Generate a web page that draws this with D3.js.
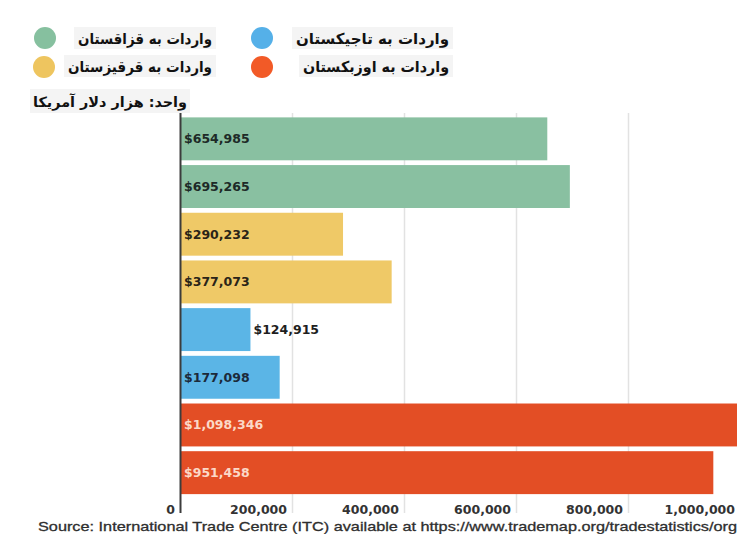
<!DOCTYPE html>
<html>
<head>
<meta charset="utf-8">
<script src="https://cdn.jsdelivr.net/npm/d3@7"></script>
<style>
    body { margin: 0; background: #fff; }
    svg { display: block; }
</style>
</head>
<body>
<svg class="imports" width="737" height="534"></svg>
<script>

// DATA ========================================================================

var rows = ['kz-1', 'kz-2', 'kg-1', 'kg-2', 'tj-1', 'tj-2', 'uz-1', 'uz-2'];
var rowCountry = ['kz', 'kz', 'kg', 'kg', 'tj', 'tj', 'uz', 'uz'];
var values = [654985, 695265, 290232, 377073, 124915, 177098, 1098346, 951458];

var countries = ['kz', 'tj', 'kg', 'uz'];
var legendLabels = ['واردات به قزاقستان', 'واردات به تاجیکستان',
                    'واردات به قرقیزستان', 'واردات به اوزبکستان'];
var colors = ['#89c0a1', '#5bb5e6', '#efc967', '#e34e25'];
var dotColors = ['#86c09f', '#55b0e8', '#eec55f', '#f25a27'];
var labelColors = ['#1d2a27', '#1b2a3a', '#2a2418', '#fbd9c8'];

var xTicks = [0, 200000, 400000, 600000, 800000, 1000000];
var unitLabel = 'واحد: هزار دلار آمریکا';
var sourceText = 'Source: International Trade Centre (ITC) available at https://www.trademap.org/tradestatistics/org';


// CHART =======================================================================

var svg = d3.select('.imports');

var x = d3.scaleLinear().domain([0, 1000000]).range([180.5, 740.5]),
    y = d3.scaleBand().domain(rows).range([115, 496.5])
        .paddingInner(0.1).paddingOuter(0.05),
    color = d3.scaleOrdinal().domain(countries).range(colors),
    labelColor = d3.scaleOrdinal().domain(countries).range(labelColors);

var data = rows.map(function(r, i) {
    return {'row': r, 'country': rowCountry[i], 'value': values[i]};
});

// grid
svg.append('g')
    .selectAll('line')
    .data(xTicks.slice(1))
    .enter().append('line')
        .attr('x1', function(d) { return x(d); })
        .attr('x2', function(d) { return x(d); })
        .attr('y1', 113)
        .attr('y2', 513)
        .attr('stroke', '#e2e2e2')
        .attr('stroke-width', 1.5);

// bars
svg.append('g')
    .selectAll('rect')
    .data(data)
    .enter().append('rect')
        .attr('x', x(0))
        .attr('y', function(d) { return y(d.row); })
        .attr('width', function(d) { return x(d.value) - x(0); })
        .attr('height', y.bandwidth())
        .attr('fill', function(d) { return color(d.country); });

// value labels (short bar gets its label outside)
svg.append('g')
    .selectAll('text')
    .data(data)
    .enter().append('text')
        .attr('x', function(d) {
            return (x(d.value) - x(0) < 75) ? x(d.value) + 3 : x(0) + 3.5;
        })
        .attr('y', function(d) { return y(d.row) + y.bandwidth() / 2 + 4.5; })
        .attr('fill', function(d) {
            return (x(d.value) - x(0) < 75) ? '#1e1e1e' : labelColor(d.country);
        })
        .style('font', 'bold 12.5px "DejaVu Sans", sans-serif')
        .text(function(d) { return '$' + d3.format(',')(d.value); });

// axis line
svg.append('line')
    .attr('x1', x(0)).attr('x2', x(0))
    .attr('y1', 112).attr('y2', 513)
    .attr('stroke', '#3c3c3c')
    .attr('stroke-width', 2);

// tick labels
svg.append('g')
    .selectAll('text')
    .data(xTicks)
    .enter().append('text')
        .attr('x', function(d) { return x(d) - 5.5; })
        .attr('y', 514)
        .attr('text-anchor', 'end')
        .attr('fill', '#333')
        .style('font', 'bold 12.5px "DejaVu Sans", sans-serif')
        .text(function(d) { return d3.format(',')(d); });

// source
svg.append('text')
    .attr('x', 38)
    .attr('y', 531)
    .attr('fill', '#2e2e2e')
    .attr('stroke', '#2e2e2e')
    .attr('stroke-width', 0.3)
    .attr('textLength', 699)
    .attr('lengthAdjust', 'spacingAndGlyphs')
    .style('font', '13.5px "Liberation Sans", Arial, sans-serif')
    .text(sourceText);


// LEGEND ======================================================================

var legendPos = [
    {dot: [45, 38], right: 212, y: 44, w: 134},
    {dot: [262, 38], right: 449, y: 44, w: 153},
    {dot: [44, 67], right: 212, y: 72, w: 144},
    {dot: [262, 67], right: 449, y: 72, w: 146}
];

var legend = svg.append('g');

countries.forEach(function(c, i) {
    var p = legendPos[i];
    legend.append('rect')
        .attr('fill', '#f4f4f4')
        .attr('x', p.right - p.w - 4)
        .attr('y', p.y - 17)
        .attr('width', p.w + 8)
        .attr('height', 22);
    legend.append('text')
        .attr('x', p.right)
        .attr('y', p.y)
        .attr('direction', 'rtl')
        .attr('textLength', p.w)
        .attr('lengthAdjust', 'spacingAndGlyphs')
        .attr('fill', '#111')
        .style('font', 'bold 15px "DejaVu Sans", sans-serif')
        .text(legendLabels[i]);
    legend.append('circle')
        .attr('cx', p.dot[0])
        .attr('cy', p.dot[1])
        .attr('r', 11)
        .attr('fill', dotColors[i]);
});

legend.append('rect')
    .attr('fill', '#f4f4f4')
    .attr('x', 30).attr('y', 89)
    .attr('width', 160).attr('height', 24);
legend.append('text')
    .attr('x', 187)
    .attr('y', 107)
    .attr('direction', 'rtl')
    .attr('textLength', 154)
    .attr('lengthAdjust', 'spacingAndGlyphs')
    .attr('fill', '#111')
    .style('font', 'bold 14px "DejaVu Sans", sans-serif')
    .text(unitLabel);

</script>
</body>
</html>
